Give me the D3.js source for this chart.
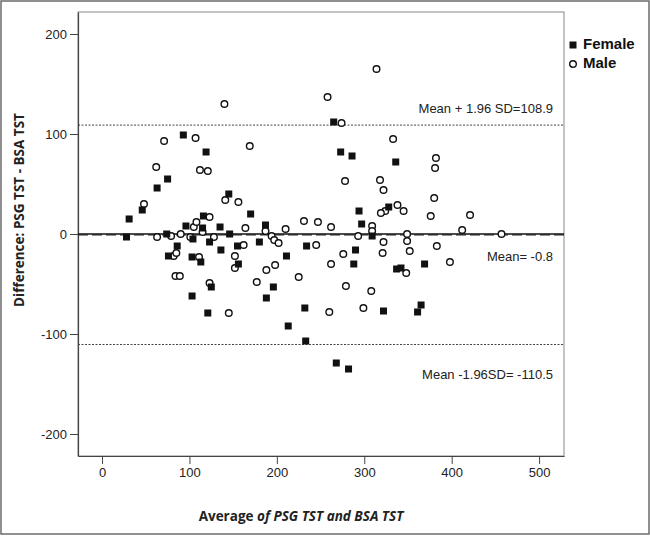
<!DOCTYPE html>
<html>
<head>
<meta charset="utf-8">
<script src="https://cdn.jsdelivr.net/npm/d3@7"></script>
<style>
  body { margin: 0; background: #fff; }
  svg { display: block; }
  .tick text { font-family: Arial, "Liberation Sans", sans-serif; font-size: 13px; fill: #222; }
  .tick line, .domain { stroke: #444; }
</style>
</head>
<body>
<div id="chart"></div>
<script>
// Bland-Altman: PSG TST vs BSA TST
var femaleAvg = [28, 31, 46, 63, 75, 93, 119, 74, 76, 86, 96, 104, 103, 103, 113, 115, 116, 123, 121, 125,
  135, 136, 145, 146, 155, 156, 170, 180, 187, 188, 196, 211, 213, 232, 233, 234, 265, 273, 286, 268,
  282, 290, 288, 294, 297, 309, 328, 336, 337, 342, 322, 369, 365, 361];
var femaleDiff = [-3, 15, 24, 46, 55, 99, 82, 0, -22, -12, 8, -5, -23, -62, -28, 6, 18, -8, -79, -53,
  7, -16, 40, 0, -12, -30, 20, -8, 9, -64, -53, -22, -92, -74, -107, -12, 112, 82, 78, -129,
  -135, -16, -30, 23, 10, -2, 27, 72, -35, -34, -77, -30, -71, -78];

var maleAvg = [48, 62, 71, 107, 112, 121, 63, 79, 90, 101, 105, 108, 115, 123, 128, 140, 141, 156, 169, 164,
  162, 82, 85, 84, 89, 111, 123, 145, 152, 152, 177, 187, 188, 194, 197, 202, 210, 198, 225, 231,
  247, 245, 258, 274, 278, 262, 262, 260, 276, 279, 293, 314, 333, 318, 322, 382, 381, 380, 338, 345,
  324, 319, 376, 421, 309, 309, 349, 412, 457, 322, 349, 321, 352, 383, 398, 348, 308, 299];
var maleDiff = [30, 67, 93, 96, 64, 63, -3, -2, 0, -3, 7, 12, 2, 17, -3, 130, 34, 32, 88, 6,
  -11, -22, -19, -42, -42, -23, -49, -79, -22, -34, -48, 3, -36, -2, -6, -9, 5, -31, -43, 13,
  12, -11, 137, 111, 53, 7, -30, -78, -20, -52, -2, 165, 95, 54, 44, 76, 66, 36, 29, 23,
  23, 21, 18, 19, 8, 3, 0, 4, 0, -8, -7, -19, -17, -12, -28, -39, -57, -74];

var xTicks = [0, 100, 200, 300, 400, 500];
var yTicks = [200, 100, 0, -100, -200];
var limitValues = [108.9, -0.8, -110.5];
var limitLabels = ['Mean + 1.96 SD=108.9', 'Mean= -0.8', 'Mean -1.96SD= -110.5'];
var legendNames = ['Female', 'Male'];

(function() {
  var W = 650, H = 536;
  var mLeft = 78, mTop = 12, mRight = 564, mBottom = 456;
  var fmt = function(d) { return String(d); };

  var svg = d3.select('#chart').append('svg').attr('width', W).attr('height', H);

  svg.append('rect').attr('x', 1).attr('y', 1).attr('width', W - 2).attr('height', H - 3)
    .attr('fill', '#fff').attr('stroke', '#6b6b6b').attr('stroke-width', 1.5);

  var x = d3.scaleLinear().domain([-27.5, 528.5]).range([mLeft, mRight]);
  var y = d3.scaleLinear().domain([-222, 222]).range([mBottom, mTop]);

  // frame
  svg.append('rect').attr('x', mLeft).attr('y', mTop).attr('width', mRight - mLeft).attr('height', mBottom - mTop)
    .attr('fill', 'none').attr('stroke', '#888').attr('stroke-width', 1);

  svg.append('g').attr('transform', 'translate(0,' + mBottom + ')')
    .call(d3.axisBottom(x).tickValues(xTicks).tickSize(8).tickSizeOuter(0).tickPadding(4).tickFormat(fmt))
    .call(function(g) { g.select('.domain').attr('stroke', '#555').attr('stroke-width', 1.2); });

  svg.append('g').attr('transform', 'translate(' + mLeft + ',0)')
    .call(d3.axisLeft(y).tickValues(yTicks).tickSize(8).tickSizeOuter(0).tickPadding(3).tickFormat(fmt))
    .call(function(g) { g.select('.domain').attr('stroke', '#555').attr('stroke-width', 1.2); });

  // zero line and mean/limit lines
  svg.append('line').attr('x1', mLeft).attr('x2', mRight).attr('y1', y(0)).attr('y2', y(0))
    .attr('stroke', '#111').attr('stroke-width', 1.4);

  svg.selectAll('line.limit').data(limitValues).enter().append('line')
    .attr('class', 'limit')
    .attr('x1', mLeft).attr('x2', mRight)
    .attr('y1', function(d) { return y(d); }).attr('y2', function(d) { return y(d); })
    .attr('stroke', function(d, i) { return i === 1 ? '#222' : '#444'; })
    .attr('stroke-width', function(d, i) { return i === 1 ? 1.2 : 1; })
    .attr('stroke-dasharray', function(d, i) { return i === 1 ? '10,4' : '2,1.5'; });

  var labelOffsets = [-16, 23, 31];
  svg.selectAll('text.limit').data(limitLabels).enter().append('text')
    .attr('class', 'limit')
    .attr('x', 553)
    .attr('y', function(d, i) { return y(limitValues[i]) + labelOffsets[i]; })
    .attr('text-anchor', 'end')
    .attr('dominant-baseline', 'middle')
    .style('font-family', 'Arial, "Liberation Sans", sans-serif')
    .style('font-size', '13px')
    .attr('fill', '#222')
    .text(function(d) { return d; });

  // points
  var plot = svg.append('g');
  var male = d3.zip(maleAvg, maleDiff);
  var female = d3.zip(femaleAvg, femaleDiff);

  plot.selectAll('circle').data(male).enter().append('circle')
    .attr('cx', function(d) { return x(d[0]); })
    .attr('cy', function(d) { return y(d[1]); })
    .attr('r', 3.3)
    .attr('fill', '#fff').attr('stroke', '#111').attr('stroke-width', 1.4);

  plot.selectAll('rect').data(female).enter().append('rect')
    .attr('x', function(d) { return x(d[0]) - 3.5; })
    .attr('y', function(d) { return y(d[1]) - 3.5; })
    .attr('width', 7).attr('height', 7)
    .attr('fill', '#111');

  // legend
  var leg = svg.append('g').attr('transform', 'translate(573,45)');
  leg.append('rect').attr('x', -3.5).attr('y', -3.5).attr('width', 7).attr('height', 7).attr('fill', '#111');
  leg.append('circle').attr('cx', 0).attr('cy', 19).attr('r', 3.3)
    .attr('fill', '#fff').attr('stroke', '#111').attr('stroke-width', 1.4);
  leg.selectAll('text').data(legendNames).enter().append('text')
    .attr('x', 10).attr('y', function(d, i) { return i * 19; })
    .attr('dominant-baseline', 'middle')
    .style('font-family', 'Arial, "Liberation Sans", sans-serif')
    .style('font-size', '15px').style('font-weight', 'bold')
    .attr('fill', '#111')
    .text(function(d) { return d; });

  // axis titles
  svg.append('text')
    .attr('transform', 'translate(20,210) rotate(-90)')
    .attr('text-anchor', 'middle')
    .attr('dominant-baseline', 'middle')
    .style('font-family', '"Open Sans", sans-serif')
    .style('font-size', '13.5px').style('font-weight', 'bold')
    .attr('fill', '#222')
    .text('Difference: PSG TST - BSA TST');

  var xt = svg.append('text')
    .attr('x', 301).attr('y', 517)
    .attr('text-anchor', 'middle')
    .attr('dominant-baseline', 'middle')
    .style('font-family', '"Open Sans", sans-serif')
    .style('font-size', '13.5px').style('font-weight', 'bold')
    .attr('fill', '#222');
  xt.append('tspan').text('Average ');
  xt.append('tspan').style('font-style', 'italic').text('of PSG TST and BSA TST');
})();
</script>
</body>
</html>
